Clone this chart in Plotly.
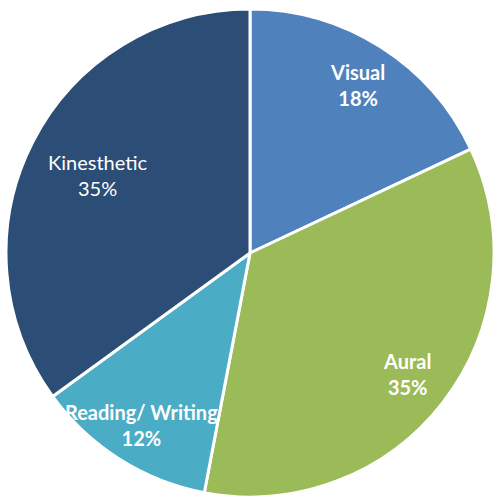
import math
import plotly.graph_objects as go

# Learning-style shares (percent)
labels = ["Visual", "Aural", "Reading/ Writing", "Kinesthetic"]
values = [18, 35, 12, 35]
colors = ["#4F81BD", "#9BBB59", "#4BACC6", "#2C4D75"]
bold = [True, True, True, False]
# radial placement of each label as a fraction of the pie radius
label_radius = [0.815, 0.81, 0.835, 0.705]

W, H = 494, 498
# pie domain in pixels (left, right, bottom, top measured from the bottom edge)
px_l, px_r = 6, 494
px_b, px_t = 0, 490

fig = go.Figure(
    go.Pie(
        labels=labels,
        values=values,
        sort=False,
        direction="clockwise",
        rotation=0,
        marker=dict(colors=colors, line=dict(color="white", width=3)),
        textinfo="none",
        hoverinfo="label+percent",
        showlegend=False,
        domain=dict(x=[px_l / W, px_r / W], y=[px_b / H, px_t / H]),
    )
)

# label annotations placed at each slice's mid-angle
R = min(px_r - px_l, px_t - px_b) / 2
cx = (px_l + px_r) / 2 + 1
cy = (px_b + px_t) / 2
total = sum(values)
cum = 0
annotations = []
for lab, val, b, fr in zip(labels, values, bold, label_radius):
    mid = (cum + val / 2) / total * 2 * math.pi
    cum += val
    x = cx + fr * R * math.sin(mid)
    y = cy + fr * R * math.cos(mid)
    pct = f"{round(val / total * 100)}%"
    txt = f"<b>{lab}<br>{pct}</b>" if b else f"{lab}<br>{pct}"
    annotations.append(
        dict(
            x=x / W, y=y / H, xref="paper", yref="paper",
            text=txt, showarrow=False, align="center",
            xanchor="center", yanchor="middle",
            font=dict(family="Lato, 'Open Sans', sans-serif", size=20, color="white"),
        )
    )

fig.update_layout(
    width=W, height=H,
    margin=dict(l=0, r=0, t=0, b=0),
    paper_bgcolor="white",
    plot_bgcolor="white",
    annotations=annotations,
)

fig.write_html("out.html")
